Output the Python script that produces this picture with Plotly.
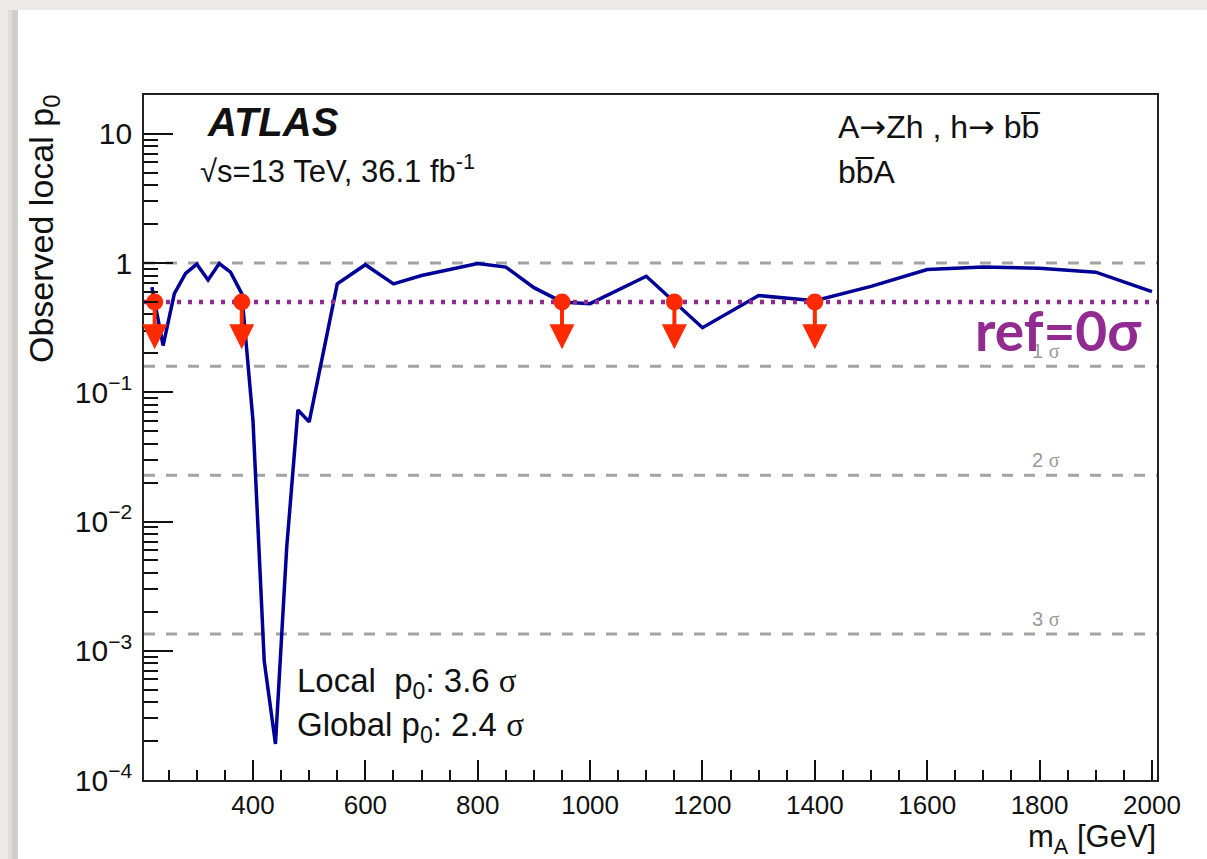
import math
import plotly.graph_objects as go

# ---------------- data ----------------
mass = [220, 240, 260, 280, 300, 320, 340, 360, 380, 400, 420, 440, 460, 480, 500,
        550, 600, 650, 700, 800, 850, 900, 950, 1000, 1100, 1200, 1300, 1400, 1500,
        1600, 1700, 1800, 1900, 2000]
p0 = [0.65, 0.23, 0.58, 0.83, 0.98, 0.74, 0.99, 0.85, 0.58, 0.060, 8.3e-4, 1.9e-4,
      6.3e-3, 0.073, 0.059, 0.69, 0.97, 0.69, 0.80, 0.99, 0.93, 0.645, 0.50, 0.485,
      0.79, 0.316, 0.56, 0.51, 0.66, 0.89, 0.93, 0.91, 0.85, 0.60]

sigma_p = [1.0, 0.1587, 0.02275, 0.00135]
sigma_labels = ["", "1", "2", "3"]
ref_p = 0.5
arrow_mass = [225, 380, 950, 1150, 1400]
arrow_tip_p = 0.215

x_tick_vals = [400, 600, 800, 1000, 1200, 1400, 1600, 1800, 2000]

X_RANGE = [206, 2009]
Y_RANGE_LOG = [-4, 1.3]

# ---------------- geometry ----------------
W, H = 1207, 859
L, R, T, B = 144, 50, 95, 79
PW, PH = W - L - R, H - T - B


def px_x(px):
    return (px - L) / PW


def px_y(py):
    return (H - B - py) / PH


FONT = "Liberation Sans"
SIG = "<span style=\"font-family:'Liberation Serif'\">σ</span>"
ARR = "<span style=\"font-family:'DejaVu Sans'\">→</span>"
BLUE = "#000096"
GRAY = "#a3a3a3"
PURPLE = "#912a91"
RED = "#ff2a00"

fig = go.Figure()

# sigma reference lines (gray dashed)
for p in sigma_p:
    fig.add_trace(go.Scatter(x=X_RANGE, y=[p, p], mode="lines",
                             line=dict(color=GRAY, width=3, dash="11px,11px"),
                             hoverinfo="skip", showlegend=False))

# observed p0 curve
fig.add_trace(go.Scatter(x=mass, y=p0, mode="lines",
                         line=dict(color=BLUE, width=3.5),
                         showlegend=False))

# ref = 0 sigma dotted line
fig.add_trace(go.Scatter(x=X_RANGE, y=[ref_p, ref_p], mode="lines",
                         line=dict(color=PURPLE, width=4.5, dash="4px,7px"),
                         hoverinfo="skip", showlegend=False))

# red dots at the start of the arrows
fig.add_trace(go.Scatter(x=arrow_mass, y=[ref_p] * len(arrow_mass), mode="markers",
                         marker=dict(symbol="circle", size=17, color=RED,
                                     line=dict(width=0)),
                         hoverinfo="skip", showlegend=False))

axis_common = dict(showgrid=False, zeroline=False, showline=True, mirror=True,
                   linecolor="#222222", linewidth=2, ticks="inside",
                   tickcolor="#111111", tickwidth=1.5)

fig.update_xaxes(range=X_RANGE, tickmode="array", tickvals=x_tick_vals,
                 ticklen=20,
                 tickfont=dict(family=FONT, size=26, color="#111111"),
                 minor=dict(ticks="inside", ticklen=10, tickwidth=1.5,
                            tickcolor="#111111", dtick=50, tick0=0),
                 ticklabelstandoff=1, **axis_common)
fig.update_yaxes(type="log", range=Y_RANGE_LOG, tickmode="linear", tick0=0, dtick=1,
                 exponentformat="power", ticklen=29,
                 tickfont=dict(family=FONT, size=24, color="#111111"),
                 minor=dict(ticks="inside", ticklen=14, tickwidth=1.5,
                            tickcolor="#111111", dtick="D1"),
                 ticklabelstandoff=5, **axis_common)

ann = []

# red downward arrows
for m in arrow_mass:
    ann.append(dict(x=m, y=math.log10(arrow_tip_p), xref="x", yref="y",
                    ax=m, ay=math.log10(ref_p), axref="x", ayref="y",
                    text="", showarrow=True, arrowhead=2, arrowsize=1.25,
                    arrowwidth=4, arrowcolor=RED, standoff=0, startstandoff=0))


def text(x, y, s, size, xanchor="left", yanchor="middle", color="#111111",
         family=FONT, angle=0, **kw):
    ann.append(dict(x=x, y=y, xref="paper", yref="paper", text=s, showarrow=False,
                    xanchor=xanchor, yanchor=yanchor, textangle=angle,
                    font=dict(family=family, size=size, color=color), **kw))


text(px_x(205), px_y(122), "<b><i>ATLAS</i></b>", 40)
text(px_x(198), px_y(169), "√s=13 TeV, 36.1 fb<sup>-1</sup>", 31)
text(px_x(836), px_y(127), "A" + ARR + "Zh , h" + ARR + " bb\u0305", 32)
text(px_x(836), px_y(172), "bb\u0305A", 32)
text(px_x(295), px_y(683), "Local  p<sub>0</sub>: 3.6 " + SIG, 33)
text(px_x(295), px_y(727), "Global p<sub>0</sub>: 2.4 " + SIG, 33)
text(px_x(1158), px_y(839), "m<sub>A</sub> [GeV]", 31, xanchor="right")
text(px_x(44), px_y(93), "Observed local p<sub>0</sub>", 34, xanchor="center",
     yanchor="top", angle=-90)

# sigma labels tied to the sigma lines
for p, lab in zip(sigma_p, sigma_labels):
    if lab:
        ann.append(dict(x=px_x(1030), y=math.log10(p), xref="paper", yref="y",
                        text=lab + " " + SIG, showarrow=False, xanchor="left",
                        yanchor="bottom", yshift=2,
                        font=dict(family=FONT, size=20, color="#9a9a9a")))

text(px_x(973), px_y(330), "<b>ref=0σ</b>", 55, color=PURPLE, family="Lato")

# background card
shapes = [
    dict(type="rect", xref="paper", yref="paper", x0=px_x(8), x1=px_x(18),
         y0=px_y(H), y1=px_y(10), fillcolor="rgba(0,0,0,0.05)", line=dict(width=0),
         layer="below"),
    dict(type="rect", xref="paper", yref="paper", x0=px_x(12), x1=px_x(18),
         y0=px_y(H), y1=px_y(10), fillcolor="rgba(0,0,0,0.07)", line=dict(width=0),
         layer="below"),
    dict(type="rect", xref="paper", yref="paper", x0=px_x(18), x1=px_x(W + 2),
         y0=px_y(H + 2), y1=px_y(10), fillcolor="white", line=dict(width=0),
         layer="below"),
]

fig.update_layout(width=W, height=H, margin=dict(l=L, r=R, t=T, b=B),
                  paper_bgcolor="#ebeae7", plot_bgcolor="white",
                  annotations=ann, shapes=shapes, showlegend=False)

fig.write_html("out.html")
